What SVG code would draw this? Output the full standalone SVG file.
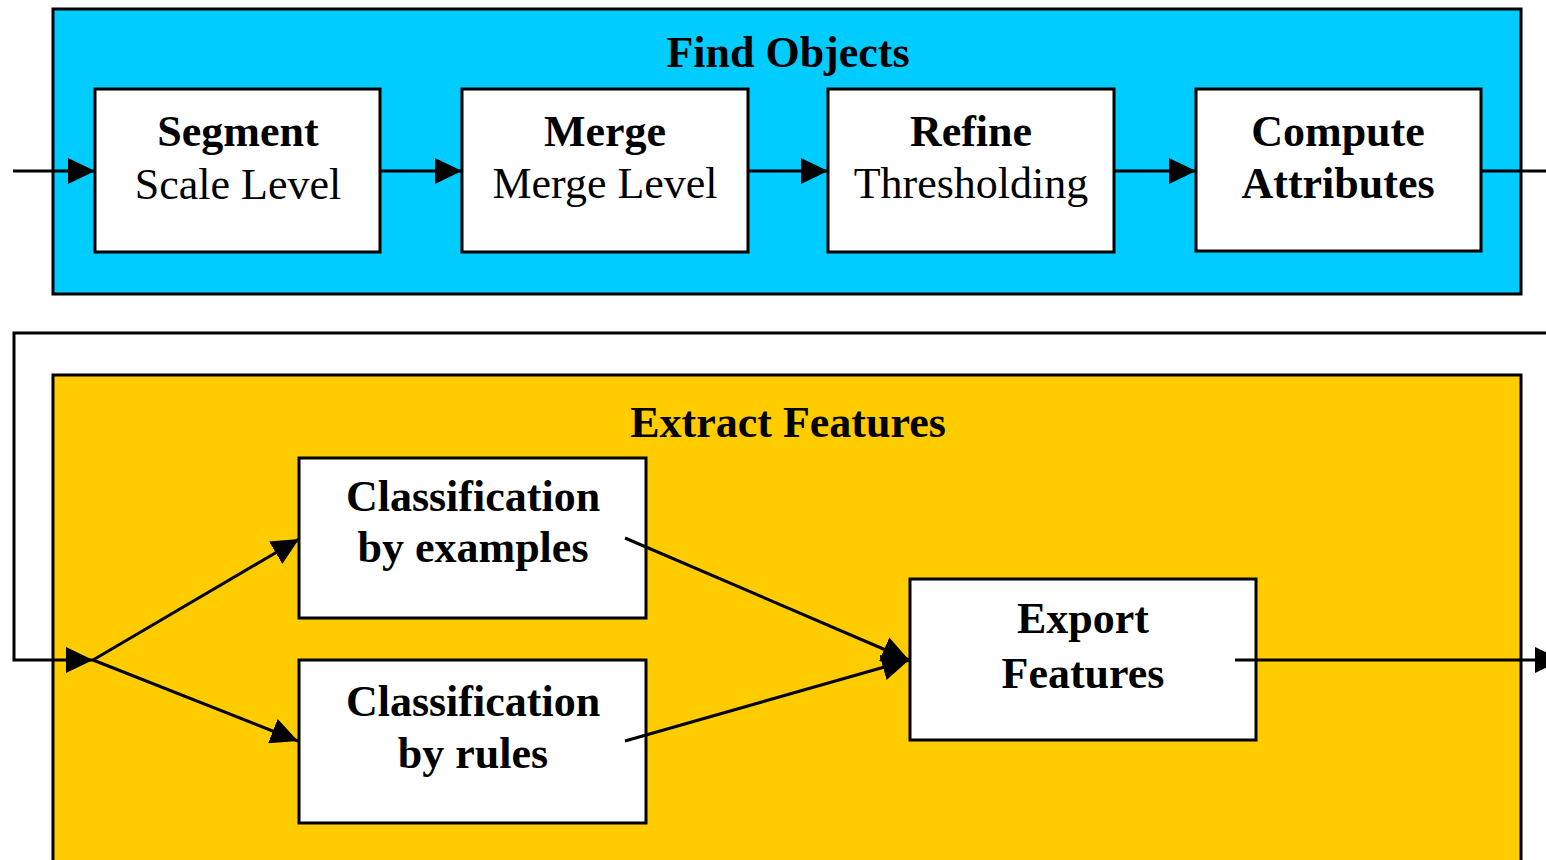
<svg xmlns="http://www.w3.org/2000/svg" width="1546" height="860" viewBox="0 0 1546 860">
  <style>
    .panel { stroke: #000; stroke-width: 3; }
    .box { fill: #fff; stroke: #000; stroke-width: 3; }
    .wire { fill: none; stroke: #000; stroke-width: 3; }
    text { font-family: "Liberation Serif", "Times New Roman", serif; font-size: 44px; fill: #000; text-anchor: middle; }
    .b { font-weight: bold; }
  </style>
  <defs>
    <marker id="head" markerUnits="userSpaceOnUse" markerWidth="28" markerHeight="26" refX="27" refY="13" orient="auto">
      <polygon points="0,0 27,13 0,26" fill="#000"/>
    </marker>
  </defs>

  <rect width="1546" height="860" fill="#fff"/>

  <!-- stage panels -->
  <g id="find-objects">
    <rect class="panel" x="53" y="9" width="1468" height="285" fill="#00CCFF"/>
    <text class="b" x="788" y="67">Find Objects</text>
  </g>
  <g id="extract-features">
    <rect class="panel" x="53" y="375" width="1468" height="500" fill="#FFCC00"/>
    <text class="b" x="788" y="437">Extract Features</text>
  </g>

  <!-- Find Objects steps -->
  <g id="segment">
    <rect class="box" x="95" y="89" width="285" height="163"/>
    <text class="b" x="238" y="146">Segment</text>
    <text x="238" y="199">Scale Level</text>
  </g>
  <g id="merge">
    <rect class="box" x="462" y="89" width="286" height="163"/>
    <text class="b" x="605" y="146">Merge</text>
    <text x="605" y="198">Merge Level</text>
  </g>
  <g id="refine">
    <rect class="box" x="828" y="89" width="286" height="163"/>
    <text class="b" x="971" y="146">Refine</text>
    <text x="971" y="198">Thresholding</text>
  </g>
  <g id="compute">
    <rect class="box" x="1196" y="89" width="285" height="162"/>
    <text class="b" x="1338" y="146">Compute</text>
    <text class="b" x="1338" y="198">Attributes</text>
  </g>

  <!-- Extract Features steps -->
  <g id="class-examples">
    <rect class="box" x="299" y="458" width="347" height="160"/>
    <text class="b" x="473" y="511">Classification</text>
    <text class="b" x="473" y="562">by examples</text>
  </g>
  <g id="class-rules">
    <rect class="box" x="299" y="660" width="347" height="163"/>
    <text class="b" x="473" y="716">Classification</text>
    <text class="b" x="473" y="768">by rules</text>
  </g>
  <g id="export">
    <rect class="box" x="910" y="579" width="346" height="161"/>
    <text class="b" x="1083" y="633">Export</text>
    <text class="b" x="1083" y="688">Features</text>
  </g>

  <!-- connectors, drawn last so the stubs that start inside boxes stay visible -->
  <g id="connectors">
    <path class="wire" d="M13,171 H95" marker-end="url(#head)"/>
    <path class="wire" d="M380,171 H462" marker-end="url(#head)"/>
    <path class="wire" d="M748,171 H828" marker-end="url(#head)"/>
    <path class="wire" d="M1114,171 H1196" marker-end="url(#head)"/>
    <path class="wire" d="M1481,171 H1546"/>
    <path class="wire" d="M1546,333 H14 V660 H93" marker-end="url(#head)"/>
    <path class="wire" d="M93,660 L299,539" marker-end="url(#head)"/>
    <path class="wire" d="M93,660 L298,741" marker-end="url(#head)"/>
    <path class="wire" d="M625,538 L909,660" marker-end="url(#head)"/>
    <path class="wire" d="M625,741 L909,660" marker-end="url(#head)"/>
    <path class="wire" d="M1235,660 H1562" marker-end="url(#head)"/>
  </g>
</svg>
